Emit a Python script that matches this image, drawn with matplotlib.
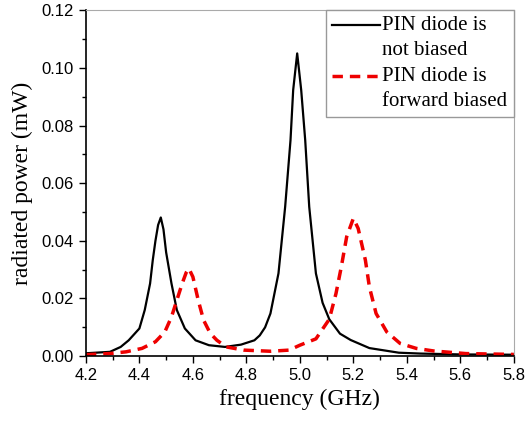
import matplotlib
matplotlib.use("Agg")
import matplotlib.pyplot as plt
from matplotlib.ticker import MultipleLocator, FormatStrFormatter
from matplotlib.legend_handler import HandlerLine2D

# frequency (GHz) / radiated power (mW)
f_off = [4.20, 4.29, 4.33, 4.36, 4.40, 4.42, 4.44, 4.45, 4.46, 4.47, 4.48, 4.49,
         4.50, 4.52, 4.54, 4.57, 4.61, 4.66, 4.72, 4.78, 4.83, 4.85, 4.87, 4.89,
         4.92, 4.945, 4.965, 4.975, 4.99, 5.005, 5.02, 5.035, 5.06, 5.085, 5.11,
         5.15, 5.19, 5.26, 5.37, 5.45, 5.60, 5.80]
p_off = [0.0010, 0.0015, 0.0032, 0.0055, 0.0096, 0.0160, 0.0252, 0.0333, 0.0400,
         0.0455, 0.0481, 0.0440, 0.0360, 0.0252, 0.0160, 0.0096, 0.0055, 0.0038,
         0.0032, 0.0040, 0.0055, 0.0072, 0.0100, 0.0148, 0.0287, 0.0518, 0.0749,
         0.0923, 0.1050, 0.0923, 0.0749, 0.0518, 0.0287, 0.0185, 0.0128, 0.0078,
         0.0056, 0.0028, 0.0012, 0.0009, 0.0006, 0.0005]

f_fwd = [4.20, 4.29, 4.35, 4.41, 4.46, 4.495, 4.52, 4.54, 4.56, 4.575, 4.585,
         4.60, 4.62, 4.64, 4.665, 4.69, 4.725, 4.79, 4.89, 4.96, 5.00, 5.06, 5.11,
         5.135, 5.155, 5.175, 5.20, 5.218, 5.245, 5.26, 5.285, 5.325, 5.375, 5.435,
         5.50, 5.62, 5.80]
p_fwd = [0.0005, 0.0009, 0.0015, 0.0027, 0.0050, 0.0084, 0.0136, 0.0194, 0.0252,
         0.0290, 0.0304, 0.0275, 0.0194, 0.0125, 0.0079, 0.0055, 0.0032, 0.0021,
         0.0017, 0.0021, 0.0038, 0.0060, 0.0128, 0.0217, 0.0310, 0.0414, 0.0478,
         0.0443, 0.0333, 0.0240, 0.0148, 0.0084, 0.0044, 0.0027, 0.0018, 0.0009,
         0.0006]

labels = ["PIN diode is\nnot biased", "PIN diode is\nforward biased"]


class TopLineHandler(HandlerLine2D):
    # put the legend line next to the first text line, not the middle
    def create_artists(self, legend, orig_handle, xdescent, ydescent,
                       width, height, fontsize, trans):
        return super().create_artists(legend, orig_handle, xdescent,
                                      ydescent - 1.2 * fontsize, width, height,
                                      fontsize, trans)


fig = plt.figure(figsize=(5.27, 4.24), dpi=100)
ax = fig.add_axes([0.163, 0.160, 0.812, 0.816])

l1, = ax.plot(f_off, p_off, color="black", lw=1.6, label=labels[0])
l2, = ax.plot(f_fwd, p_fwd, color="#ee0000", lw=2.5, ls=(0, (3, 2)), label=labels[1])

ax.set_xlim(4.2, 5.8)
ax.set_ylim(0, 0.12)
ax.xaxis.set_major_locator(MultipleLocator(0.2))
ax.xaxis.set_minor_locator(MultipleLocator(0.1))
ax.yaxis.set_major_locator(MultipleLocator(0.02))
ax.yaxis.set_minor_locator(MultipleLocator(0.01))
ax.xaxis.set_major_formatter(FormatStrFormatter("%.1f"))
ax.yaxis.set_major_formatter(FormatStrFormatter("%.2f"))

tick_font = "Liberation Sans"
ax.tick_params(which="major", direction="out", length=5, width=1, labelsize=12)
ax.tick_params(which="minor", direction="out", length=3, width=1)
ax.tick_params(top=False, right=False, which="both")
for lab in ax.get_xticklabels() + ax.get_yticklabels():
    lab.set_fontfamily(tick_font)

for s in ["top", "right"]:
    ax.spines[s].set_color("#aaaaaa")
for s in ["left", "bottom"]:
    ax.spines[s].set_color("black")
    ax.spines[s].set_linewidth(1.2)

ax.set_xlabel("frequency (GHz)", family="Liberation Serif", fontsize=17, labelpad=4)
ax.set_ylabel("radiated power (mW)", family="Liberation Serif", fontsize=17, labelpad=6)

hm = {l1: TopLineHandler(), l2: TopLineHandler()}
leg = ax.legend(loc="upper right", prop={"family": "Liberation Serif", "size": 15},
                frameon=True, fancybox=False, edgecolor="#999999", framealpha=1,
                handlelength=2.3, handletextpad=0.1, borderpad=0.3,
                labelspacing=0.35, borderaxespad=0.0, handler_map=hm)
leg.get_frame().set_linewidth(1.0)
for t in leg.get_texts():
    t.set_linespacing(1.4)

fig.savefig("out.png", dpi=100)
